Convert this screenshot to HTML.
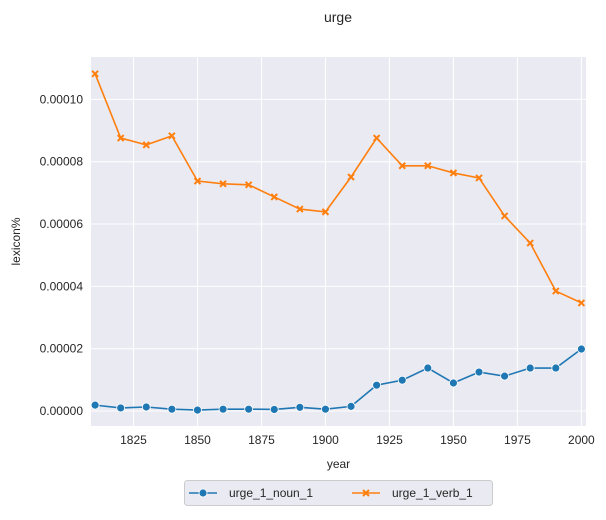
<!DOCTYPE html>
<html><head><meta charset="utf-8"><style>
body{margin:0;background:#fff;}
svg text{font-family:"Liberation Sans",Arial,sans-serif;fill:#262626;}
</style></head><body>
<svg id="chart" width="606" height="515"></svg>
<script>
const years=[1810,1820,1830,1840,1850,1860,1870,1880,1890,1900,1910,1920,1930,1940,1950,1960,1970,1980,1990,2000];
const nounVals=[0.0000019,0.0000010,0.0000013,0.0000006,0.0000003,0.0000006,0.0000006,0.0000005,0.0000012,0.0000006,0.0000015,0.0000083,0.0000099,0.0000138,0.0000090,0.0000125,0.0000112,0.0000138,0.0000138,0.0000199];
const verbVals=[0.0001082,0.0000876,0.0000854,0.0000883,0.0000738,0.0000729,0.0000726,0.0000687,0.0000648,0.0000639,0.0000751,0.0000876,0.0000787,0.0000787,0.0000764,0.0000748,0.0000626,0.0000539,0.0000385,0.0000347];
const xTicks=[1825,1850,1875,1900,1925,1950,1975,2000];
const yTicks=[0,0.00002,0.00004,0.00006,0.00008,0.0001];
const yTickLabels=["0.00000","0.00002","0.00004","0.00006","0.00008","0.00010"];

const NS="http://www.w3.org/2000/svg";
const svg=document.getElementById('chart');
const L=91,R=586,T=57,B=426;
const xMin=1808.4,xMax=2001.8,yMin=-0.0000048,yMax=0.0001136;
const xs=v=>L+(v-xMin)/(xMax-xMin)*(R-L);
const ys=v=>B-(v-yMin)/(yMax-yMin)*(B-T);
function mk(tag,attrs,parent){const e=document.createElementNS(NS,tag);for(const k in attrs)e.setAttribute(k,attrs[k]);(parent||svg).appendChild(e);return e;}

const title=mk('text',{x:338,y:22,'text-anchor':'middle','font-size':14});
title.textContent='urge';



const bg=mk('rect',{x:L,y:T,width:R-L,height:B-T,fill:'#eaeaf2'});



xTicks.forEach(t=>{
  const g=mk('line',{x1:xs(t),x2:xs(t),y1:T,y2:B,stroke:'#fff','stroke-width':1});
  
  
  const lb=mk('text',{x:xs(t),y:B+18,'text-anchor':'middle','font-size':12});
  lb.textContent=t;
  
  
});
yTicks.forEach((t,i)=>{
  const g=mk('line',{x1:L,x2:R,y1:ys(t),y2:ys(t),stroke:'#fff','stroke-width':1});
  
  
  const lb=mk('text',{x:L-8,y:ys(t)+4,'text-anchor':'end','font-size':12});
  lb.textContent=yTickLabels[i];
  
  
});
const xt=mk('text',{x:(L+R)/2,y:468,'text-anchor':'middle','font-size':12});
xt.textContent='year';


const yt=mk('text',{x:20,y:(T+B)/2,'text-anchor':'middle','font-size':12,transform:`rotate(-90 20 ${(T+B)/2})`});
yt.textContent='lexicon%';



function series(vals,color,marker,name){
  const pts=years.map((y,i)=>xs(y)+','+ys(vals[i])).join(' ');
  const pl=mk('polyline',{points:pts,fill:'none',stroke:color,'stroke-width':1.6});
  
  
  years.forEach((y,i)=>{
    const cx=xs(y),cy=ys(vals[i]);
    let m;
    if(marker==='o'){m=mk('circle',{cx:cx,cy:cy,r:4,fill:color,stroke:'#fff','stroke-width':0.8});}
    else{m=mk('path',{d:`M${cx-3},${cy-3}L${cx+3},${cy+3}M${cx-3},${cy+3}L${cx+3},${cy-3}`,stroke:color,'stroke-width':2});}
    
    
  });
}
series(nounVals,'#1f77b4','o','noun');
series(verbVals,'#ff7f0e','x','verb');

const lg=mk('g',{});


mk('rect',{x:184.5,y:480.5,width:308,height:25,rx:3,fill:'#eaeaf2',stroke:'#ccc'},lg);
mk('line',{x1:189,x2:217,y1:493,y2:493,stroke:'#1f77b4','stroke-width':1.6},lg);
mk('circle',{cx:203,cy:493,r:4,fill:'#1f77b4',stroke:'#fff','stroke-width':0.8},lg);
const l1=mk('text',{x:229,y:497,'font-size':12},lg);
l1.textContent='urge_1_noun_1';


mk('line',{x1:352,x2:380,y1:493,y2:493,stroke:'#ff7f0e','stroke-width':1.6},lg);
mk('path',{d:'M363,490L369,496M363,496L369,490',stroke:'#ff7f0e','stroke-width':2},lg);
const l2=mk('text',{x:392,y:497,'font-size':12},lg);
l2.textContent='urge_1_verb_1';


</script>
</body></html>
